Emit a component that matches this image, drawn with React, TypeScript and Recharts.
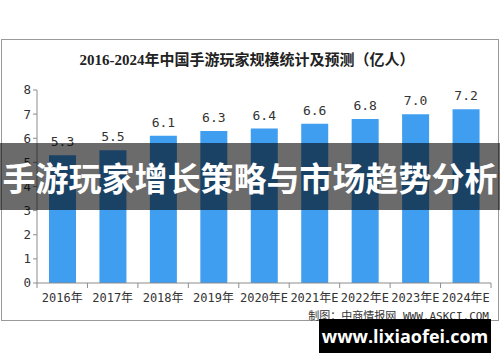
import React from "react";
import { BarChart, Bar, XAxis, YAxis, LabelList } from "recharts";

const years = ["2016年", "2017年", "2018年", "2019年", "2020年E", "2021年E", "2022年E", "2023年E", "2024年E"];
const players = [5.3, 5.5, 6.1, 6.3, 6.4, 6.6, 6.8, 7.0, 7.2];
const yTicks = [0, 1, 2, 3, 4, 5, 6, 7, 8];

const data = years.map((year, i) => ({ year, players: players[i] }));

const AXIS = "#8c8c8c";
const TEXT = "#333";
const MONO = "'DejaVu Sans Mono', 'Noto Sans CJK SC', monospace";

function YearTick(props: any) {
  const { x, y, payload, index } = props;
  const half = payload.offset || 0;
  return (
    <g>
      {index === 0 && <line x1={x - half} x2={x - half} y1={y - 8} y2={y - 3} stroke={AXIS} />}
      <line x1={x + half} x2={x + half} y1={y - 8} y2={y - 3} stroke={AXIS} />
      <text x={x} y={y + 11} textAnchor="middle" fill={TEXT} fontSize={12} fontFamily={MONO}>
        {payload.value}
      </text>
    </g>
  );
}

export default function App() {
  return (
    <div style={{ position: "absolute", left: 0, top: 0, width: 500, height: 362, background: "#fff", overflow: "hidden" }}>
      <div
        style={{
          position: "absolute",
          left: 1,
          top: 39,
          width: 496,
          height: 280,
          border: "1px solid #999",
        }}
      />
      <div
        style={{
          position: "absolute",
          left: 0,
          top: 48,
          width: 494,
          textAlign: "center",
          fontFamily: "'Liberation Serif', 'Noto Sans CJK SC', serif",
          fontWeight: "bold",
          fontSize: 15,
          color: "#222",
        }}
      >
        2016-2024年中国手游玩家规模统计及预测（亿人）
      </div>
      <div style={{ position: "absolute", left: 0, top: 0 }}>
        <BarChart width={500} height={362} data={data} margin={{ top: 90, right: 9, bottom: 49, left: 0 }}>
          <XAxis
            dataKey="year"
            axisLine={{ stroke: AXIS }}
            tickLine={false}
            tick={<YearTick />}
            height={30}
            interval={0}
          />
          <YAxis
            domain={[0, 8]}
            ticks={yTicks}
            width={37}
            axisLine={{ stroke: AXIS }}
            tickLine={{ stroke: AXIS }}
            tickSize={4}
            tick={{ fill: TEXT, fontSize: 12.5, fontFamily: MONO }}
          />
          <Bar dataKey="players" fill="#3f9ef0" barSize={27} isAnimationActive={false}>
            <LabelList
              dataKey="players"
              position="top"
              offset={9}
              formatter={(v: any) => Number(v).toFixed(1)}
              style={{ fill: TEXT, fontSize: 13, fontFamily: MONO }}
            />
          </Bar>
        </BarChart>
      </div>
      <div
        style={{
          position: "absolute",
          right: 11,
          top: 307,
          fontSize: 11,
          color: TEXT,
          fontFamily: MONO,
          whiteSpace: "nowrap",
        }}
      >
        制图：中商情报网 WWW.ASKCI.COM
      </div>
      <div
        style={{
          position: "absolute",
          left: 0,
          top: 143,
          width: 500,
          height: 67,
          background: "rgba(0,0,0,0.58)",
          display: "flex",
          alignItems: "center",
          justifyContent: "center",
          color: "#fff",
          fontFamily: "'Noto Sans CJK SC', sans-serif",
          fontWeight: "bold",
          fontSize: 33,
          whiteSpace: "nowrap",
        }}
      >
        手游玩家增长策略与市场趋势分析
      </div>
      <div
        style={{
          position: "absolute",
          left: 319,
          top: 319,
          width: 172,
          height: 34,
          background: "#000",
          color: "#fff",
          display: "flex",
          alignItems: "center",
          justifyContent: "center",
          fontFamily: "'Open Sans', 'DejaVu Sans', sans-serif",
          fontWeight: "bold",
          fontSize: 18,
        }}
      >
        www.lixiaofei.com
      </div>
    </div>
  );
}
